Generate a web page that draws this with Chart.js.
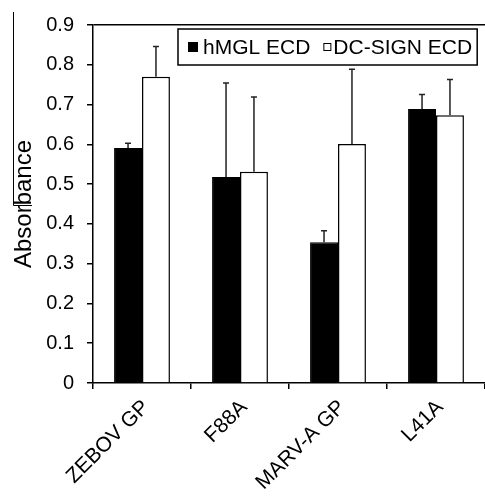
<!DOCTYPE html>
<html>
<head>
<meta charset="utf-8">
<script src="https://cdn.jsdelivr.net/npm/chart.js@4.4.1/dist/chart.umd.min.js"></script>
<style>
  html, body { margin: 0; padding: 0; background: #fff; }
  #wrap { width: 485px; height: 497px; }
</style>
</head>
<body>
<div id="wrap"><canvas id="c"></canvas></div>
<script>
// 値は図から読み取った推定値
const CATEGORIES = ['ZEBOV GP', 'F88A', 'MARV-A GP', 'L41A'];
const HMGL = [0.591, 0.518, 0.354, 0.689];
const HMGL_ERR = [0.012, 0.236, 0.029, 0.036];
const DCSIGN = [0.770, 0.531, 0.601, 0.673];
const DCSIGN_ERR = [0.076, 0.188, 0.188, 0.090];
const SERIES_LABELS = ['hMGL ECD', 'DC-SIGN ECD'];
const Y_MIN = 0, Y_MAX = 0.9, Y_STEP = 0.1;
const Y_TITLE = 'Absorbance';

const FONT = '"Liberation Sans", Arial, sans-serif';
Chart.defaults.font.family = FONT;
Chart.defaults.color = '#000';

// 上向きのエラーバー(キャップ付き)
const errorBars = {
  id: 'errorBars',
  afterDatasetsDraw(chart) {
    const y = chart.scales.y;
    const ctx = chart.ctx;
    ctx.save();
    ctx.strokeStyle = '#222';
    ctx.lineWidth = 1.5;
    chart.data.datasets.forEach((ds, i) => {
      chart.getDatasetMeta(i).data.forEach((bar, j) => {
        const top = y.getPixelForValue(ds.data[j] + ds.errors[j]);
        ctx.beginPath();
        ctx.moveTo(bar.x, bar.y); ctx.lineTo(bar.x, top);
        ctx.moveTo(bar.x - 3, top); ctx.lineTo(bar.x + 3, top);
        ctx.stroke();
      });
    });
    ctx.restore();
  }
};

// 枠付きの凡例(プロット内の右上)と左端の飾り線
const boxLegend = {
  id: 'boxLegend',
  afterDraw(chart) {
    const a = chart.chartArea;
    const ctx = chart.ctx;
    ctx.save();
    ctx.font = '21px ' + FONT;
    ctx.textBaseline = 'middle';
    const mk = [10, 8], gapMk = [5, 2], gapItem = 13, padL = 10, padR = 5;
    const widths = chart.data.datasets.map(ds => ctx.measureText(ds.label).width);
    let w = padL + padR;
    widths.forEach((tw, i) => { w += mk[i] + gapMk[i] + tw + (i ? gapItem : 0); });
    const h = 36;
    const bx = a.left + 85, by = a.top + 4;
    ctx.fillStyle = '#fff';
    ctx.fillRect(bx, by, w, h);
    ctx.strokeStyle = '#000';
    ctx.lineWidth = 1.5;
    ctx.strokeRect(bx, by, w, h);
    let x = bx + padL;
    const cy = by + h / 2;
    chart.data.datasets.forEach((ds, i) => {
      if (i) x += gapItem;
      ctx.fillStyle = ds.backgroundColor;
      ctx.fillRect(x, cy - mk[i] / 2, mk[i], mk[i]);
      ctx.lineWidth = 1;
      ctx.strokeRect(x + 0.5, cy - mk[i] / 2 + 0.5, mk[i] - 1, mk[i] - 1);
      x += mk[i] + gapMk[i];
      ctx.fillStyle = '#000';
      ctx.fillText(ds.label, x, cy + 1);
      x += widths[i];
    });
    // 左端の縦線
    ctx.lineWidth = 1;
    ctx.beginPath();
    ctx.moveTo(13.5, 12); ctx.lineTo(13.5, 205.5); ctx.lineTo(32, 205.5);
    ctx.stroke();
    ctx.restore();
  }
};

new Chart(document.getElementById('c'), {
  type: 'bar',
  data: {
    labels: CATEGORIES,
    datasets: [
      { label: SERIES_LABELS[0], data: HMGL, errors: HMGL_ERR,
        backgroundColor: '#000', borderColor: '#000', borderWidth: 1 },
      { label: SERIES_LABELS[1], data: DCSIGN, errors: DCSIGN_ERR,
        backgroundColor: '#fff', borderColor: '#000', borderWidth: 1.5 }
    ]
  },
  plugins: [errorBars, boxLegend],
  options: {
    responsive: true,
    maintainAspectRatio: false,
    animation: false,
    events: [],
    layout: { padding: { left: 0, top: 19, right: -3, bottom: 0 } },
    datasets: { bar: { categoryPercentage: 0.57, barPercentage: 1 } },
    scales: {
      x: {
        afterFit: (s) => { s.height = 114; },
        grid: { display: true, drawOnChartArea: false, offset: true,
                tickLength: 6, color: '#000', lineWidth: 1.5 },
        border: { display: true, color: '#000', width: 1.5 },
        ticks: { font: { size: 21 }, color: '#000', minRotation: 45, maxRotation: 45,
                 autoSkip: false, padding: 6, labelOffset: 4 }
      },
      y: {
        min: Y_MIN, max: Y_MAX,
        afterFit: (s) => { s.width = 93; },
        grid: {
          drawOnChartArea: true, tickLength: 6, lineWidth: 1.5, tickColor: '#000',
          color: (c) => (c.tick && c.tick.value >= Y_MAX - 1e-9) ? '#000' : 'rgba(0,0,0,0)'
        },
        border: { display: true, color: '#000', width: 1.5 },
        ticks: { stepSize: Y_STEP, font: { size: 20 }, color: '#000', padding: 13,
                 callback: (v) => String(Number(v.toFixed(1))) },
        title: { display: true, text: Y_TITLE, font: { size: 24 }, color: '#000',
                 padding: { top: 10, bottom: 0 } }
      }
    },
    plugins: {
      legend: { display: false },
      tooltip: { enabled: false }
    }
  }
});
</script>
</body>
</html>
